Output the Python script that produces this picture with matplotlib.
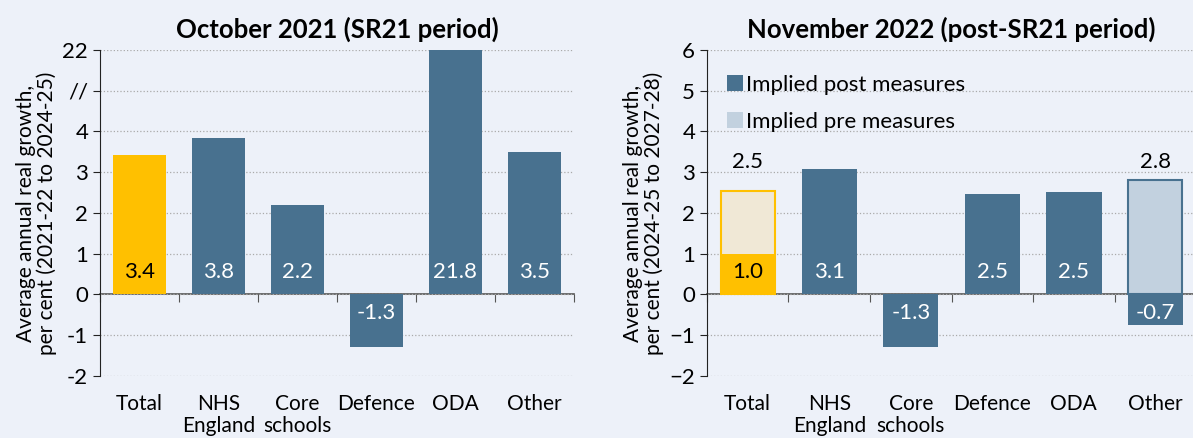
import matplotlib.pyplot as plt
import numpy as np

categories = ['Total', 'NHS\nEngland', 'Core\nschools', 'Defence', 'ODA', 'Other']

# October 2021 (SR21 period)
oct21 = [3.43, 3.83, 2.2, -1.3, 21.8, 3.49]

# November 2022 (post-SR21 period)
nov22_post = [1.0, 3.07, -1.29, 2.46, 2.51, -0.74]
nov22_pre = [2.54, np.nan, np.nan, np.nan, np.nan, 2.8]

left_ticks = [-2, -1, 0, 1, 2, 3, 4, 5, 6]
left_ticklabels = ['-2', '-1', '0', '1', '2', '3', '4', '//', '22']

bg = '#EDF1F9'
blue = '#48718F'
yellow = '#FFC000'
light_yellow = '#F0E8D6'
light_blue = '#C2D1DF'

plt.rcParams['font.family'] = ['Lato', 'DejaVu Sans']
plt.rcParams['font.size'] = 15

fig = plt.figure(figsize=(11.93, 4.38), dpi=100, facecolor=bg)
ax1 = fig.add_axes([0.0838, 0.1416, 0.3973, 0.7443])
ax2 = fig.add_axes([0.5926, 0.1416, 0.41, 0.7443])

x = np.arange(len(categories))
width = 0.68


def style(ax, ylabel):
    ax.set_facecolor(bg)
    ax.set_xlim(-0.5, len(categories) - 0.5)
    ax.set_ylim(-2, 6)
    for s in ['top', 'right', 'bottom']:
        ax.spines[s].set_visible(False)
    ax.spines['left'].set_color('#222222')
    ax.yaxis.grid(True, linestyle=':', color='#AAAAAA', linewidth=0.9)
    ax.set_axisbelow(True)
    ax.set_xticks(x)
    ax.set_xticklabels(categories, linespacing=1.15)
    ax.tick_params(axis='x', length=0, pad=13, labelsize=15)
    ax.tick_params(axis='y', length=5, labelsize=16, color='#222222')
    ax.set_ylabel(ylabel, fontsize=15, linespacing=1.0, labelpad=4)
    # zero line with category boundary ticks
    sec = ax.secondary_xaxis(0.25)
    sec.set_xticks(np.arange(len(categories) + 1) - 0.5)
    sec.set_xticklabels([])
    sec.tick_params(length=6, color='#555555')
    sec.spines['bottom'].set_color('#555555')
    sec.spines['bottom'].set_linewidth(1.2)


def inner_label(ax, xi, v, color):
    y = 0.55 if v >= 0 else -0.45
    ax.text(xi, y, f'{v:.1f}', ha='center', va='center', color=color, fontsize=16)


# left chart
style(ax1, 'Average annual real growth,\nper cent (2021-22 to 2024-25)')
shown = np.minimum(oct21, 6)
colors = [yellow] + [blue] * 5
ax1.bar(x, shown, width, color=colors, clip_on=False)
for xi, v, c in zip(x, oct21, colors):
    inner_label(ax1, xi, v, 'black' if c == yellow else 'white')
ax1.set_yticks(left_ticks)
ax1.set_yticklabels(left_ticklabels)
ax1.set_title('October 2021 (SR21 period)', fontsize=18.5, fontweight='bold', pad=9)

# right chart
style(ax2, 'Average annual real growth,\nper cent (2024-25 to 2027-28)')
ax2.set_yticks(left_ticks)
pre_fill = [light_yellow, None, None, None, None, light_blue]
pre_edge = [yellow, None, None, None, None, blue]
for xi, v, f, e in zip(x, nov22_pre, pre_fill, pre_edge):
    if not np.isnan(v):
        ax2.bar(xi, v, width - 0.02, color=f, edgecolor=e, linewidth=1.5)
        ax2.text(xi, 3.25, f'{v:.1f}', ha='center', va='center', fontsize=16)
colors2 = [yellow] + [blue] * 5
ax2.bar(x, nov22_post, width, color=colors2)
for xi, v, c in zip(x, nov22_post, colors2):
    inner_label(ax2, xi, v, 'black' if c == yellow else 'white')
ax2.bar(np.nan, np.nan, color=blue, label='Implied post measures')
ax2.bar(np.nan, np.nan, color=light_blue, label='Implied pre measures')
ax2.legend(loc='upper left', frameon=False, fontsize=16, handlelength=0.7,
           handleheight=0.7, handletextpad=0.15, labelspacing=0.75,
           bbox_to_anchor=(0.0, 0.985))
ax2.set_title('November 2022 (post-SR21 period)', fontsize=18.5, fontweight='bold', pad=9)

plt.savefig('out.png', dpi=100, facecolor=bg)
